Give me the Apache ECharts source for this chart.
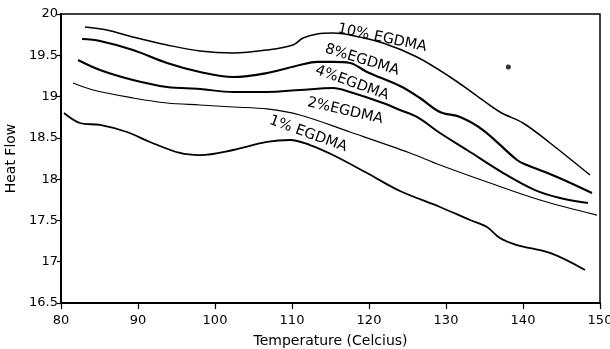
<!DOCTYPE html>
<html>
<head>
<meta charset="utf-8">
<script src="https://cdn.jsdelivr.net/npm/echarts@6/dist/echarts.min.js"></script>
<style>
  html, body { margin: 0; padding: 0; background: #fff; }
  #chart { width: 610px; height: 349px; }
</style>
</head>
<body>
<div id="chart"></div>
<script>
// values
const temp10 = [83.12, 85.97, 89.35, 93.77, 98.05, 102.34, 106.75, 110.13, 111.43, 113.25, 115.32, 117.53, 121.82, 126.23, 130.52, 133.51, 137.01, 140.0, 143.51, 148.7]
const flow10 = [19.843, 19.806, 19.721, 19.625, 19.552, 19.528, 19.564, 19.625, 19.709, 19.758, 19.77, 19.746, 19.649, 19.479, 19.237, 19.043, 18.813, 18.68, 18.438, 18.05]

const temp8 = [82.73, 85.06, 89.35, 93.77, 98.05, 102.34, 106.75, 111.03, 113.25, 115.32, 117.53, 119.74, 124.03, 126.62, 129.22, 131.82, 134.81, 139.22, 140.52, 144.42, 148.96]
const flow8 = [19.697, 19.673, 19.564, 19.407, 19.298, 19.237, 19.285, 19.382, 19.419, 19.419, 19.407, 19.298, 19.128, 18.983, 18.813, 18.753, 18.595, 18.232, 18.171, 18.026, 17.832]

const temp4 = [82.21, 85.06, 89.35, 93.77, 98.05, 102.34, 106.75, 111.03, 115.32, 117.53, 121.82, 124.03, 126.23, 129.22, 132.73, 137.66, 141.56, 144.81, 148.44]
const flow4 = [19.443, 19.322, 19.201, 19.116, 19.092, 19.055, 19.055, 19.08, 19.104, 19.055, 18.922, 18.837, 18.753, 18.559, 18.353, 18.062, 17.868, 17.772, 17.711]

const temp2 = [81.56, 84.16, 89.35, 93.77, 98.05, 102.34, 106.75, 111.03, 117.53, 125.32, 129.22, 135.71, 142.21, 149.61]
const flow2 = [19.164, 19.08, 18.983, 18.922, 18.898, 18.874, 18.85, 18.777, 18.571, 18.317, 18.171, 17.953, 17.747, 17.565]

const temp1 = [80.39, 82.47, 85.06, 88.57, 91.56, 95.45, 98.05, 102.34, 106.75, 109.74, 112.34, 115.32, 119.74, 124.03, 129.22, 133.12, 135.32, 137.01, 139.22, 143.51, 148.05]
const flow1 = [18.801, 18.68, 18.656, 18.571, 18.45, 18.317, 18.292, 18.353, 18.45, 18.474, 18.413, 18.292, 18.074, 17.856, 17.663, 17.505, 17.42, 17.287, 17.202, 17.106, 16.9]

// stray dot on the scan
const dotPoint = [138.1, 19.358]

// curve labels: text, temperature, heat flow, angle (deg)
const labelTexts = ['10% EGDMA', '8%EGDMA', '4%EGDMA', '2%EGDMA', '1% EGDMA']
const labelTemps = [121.7, 119.1, 117.8, 116.9, 112.1]
const labelFlows = [19.709, 19.443, 19.164, 18.825, 18.547]
const labelAngles = [-12, -17, -20, -13, -20]

const FONT = 'DejaVu Sans'

function zip(xs, ys) {
  return xs.map((x, i) => [x, ys[i]])
}

const chart = echarts.init(document.getElementById('chart'))

const curves = [
  { name: '10%', data: zip(temp10, flow10), width: 1.5 },
  { name: '8%', data: zip(temp8, flow8), width: 2.2 },
  { name: '4%', data: zip(temp4, flow4), width: 2 },
  { name: '2%', data: zip(temp2, flow2), width: 1.2 },
  { name: '1%', data: zip(temp1, flow1), width: 1.8 }
]

const option = {
  animation: false,
  backgroundColor: '#fff',
  grid: {
    left: 61,
    right: 10,
    top: 14,
    bottom: 46,
    outerBoundsMode: 'none',
    show: true,
    borderColor: '#000',
    borderWidth: 1.5
  },
  xAxis: {
    type: 'value',
    min: 80,
    max: 150,
    interval: 10,
    name: 'Temperature (Celcius)',
    nameLocation: 'middle',
    nameGap: 31,
    nameTextStyle: { fontFamily: FONT, fontSize: 14, color: '#000' },
    axisLine: { show: true, lineStyle: { color: '#000', width: 2 } },
    axisTick: { show: true, length: 6, lineStyle: { color: '#000', width: 1.2 } },
    axisLabel: { fontFamily: FONT, fontSize: 13, color: '#000', margin: 11 },
    splitLine: { show: false }
  },
  yAxis: {
    type: 'value',
    min: 16.5,
    max: 20,
    interval: 0.5,
    name: 'Heat Flow',
    nameLocation: 'middle',
    nameGap: 42,
    nameTextStyle: { fontFamily: FONT, fontSize: 14, color: '#000' },
    axisLine: { show: true, lineStyle: { color: '#000', width: 2 } },
    axisTick: { show: true, length: 4, lineStyle: { color: '#000', width: 1.2 } },
    axisLabel: { fontFamily: FONT, fontSize: 13, color: '#000', margin: 3 },
    splitLine: { show: false }
  },
  series: curves.map(c => ({
    name: c.name,
    type: 'line',
    data: c.data,
    smooth: 0.35,
    showSymbol: false,
    lineStyle: { color: '#000', width: c.width }
  })).concat([{
    type: 'scatter',
    data: [dotPoint],
    symbolSize: 5,
    itemStyle: { color: '#000' }
  }])
}

chart.setOption(option)

// place the rotated curve labels at their data positions
const labelGraphics = labelTexts.map((text, i) => {
  const p = chart.convertToPixel({ gridIndex: 0 }, [labelTemps[i], labelFlows[i]])
  return {
    type: 'text',
    x: p[0],
    y: p[1],
    rotation: labelAngles[i] * Math.PI / 180,
    style: {
      text: text,
      fontFamily: FONT,
      fontSize: 14.5,
      fill: '#000',
      align: 'center',
      verticalAlign: 'middle'
    }
  }
})

chart.setOption({ graphic: labelGraphics })
</script>
</body>
</html>
